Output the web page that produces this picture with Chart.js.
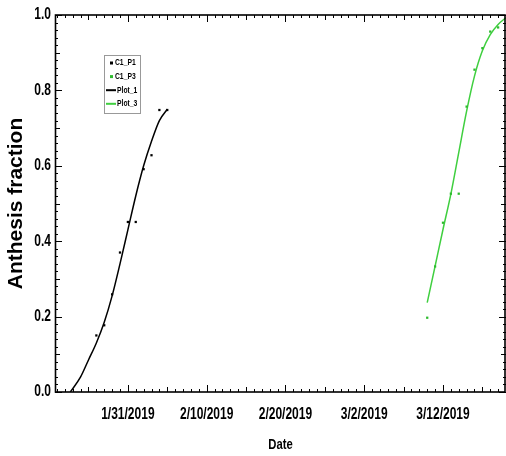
<!DOCTYPE html>
<html><head><meta charset="utf-8">
<script src="https://cdn.jsdelivr.net/npm/chart.js@4/dist/chart.umd.min.js"></script>
<style>html,body{margin:0;padding:0;background:#fff;overflow:hidden}canvas{display:block}</style>
</head><body><canvas id="c" width="506" height="456" style="width:506px;height:456px"></canvas>
<script>
// Days counted from Jan 1 2019 (= day 0)
const p1Days   = [26, 27, 28, 29, 30, 31, 32, 33, 34, 35];
const p1Values = [0.150, 0.177, 0.259, 0.370, 0.451, 0.451, 0.591, 0.628, 0.748, 0.748];
const p3Days   = [68, 69, 70, 71, 72, 73, 74, 75, 76, 77];
const p3Values = [0.197, 0.333, 0.449, 0.526, 0.526, 0.757, 0.855, 0.912, 0.956, 0.967];
const fit1Days   = [22.7, 24, 25, 26, 27, 28, 29, 30, 31, 32, 33, 34, 35];
const fit1Values = [0.0, 0.04, 0.085, 0.13, 0.185, 0.255, 0.34, 0.43, 0.52, 0.60, 0.665, 0.72, 0.75];
const fit3Days   = [68, 69, 70, 71, 72, 73, 74, 75, 76, 77, 78];
const fit3Values = [0.237, 0.334, 0.431, 0.525, 0.635, 0.745, 0.838, 0.905, 0.948, 0.975, 0.993];
const xTickDays = [30, 40, 50, 60, 70];
const yTickValues = [0, 0.2, 0.4, 0.6, 0.8, 1.0];
const seriesLabels = ['C1_P1', 'C1_P3', 'Plot_1', 'Plot_3'];
const xTitle = 'Date';
const yTitle = 'Anthesis fraction';

const GREEN = '#3fcf3f';
const FONT = '"Liberation Sans", Arial, sans-serif';
const zip = (xs, ys) => xs.map((x, i) => ({x: x, y: ys[i]}));
const dayLabel = d => { const dt = new Date(2019, 0, 1 + d); return (dt.getMonth() + 1) + '/' + dt.getDate() + '/' + dt.getFullYear(); };

// Condensed look for horizontal text (the reference uses a narrow face)
const canvas = document.getElementById('c');
const ctx2d = canvas.getContext('2d');
const origFillText = ctx2d.fillText.bind(ctx2d);
ctx2d.fillText = function (t, x, y, mw) {
  const m = this.getTransform();
  if (Math.abs(m.b) > 1e-6) { return mw === undefined ? origFillText(t, x, y) : origFillText(t, x, y, mw); }
  this.save();
  this.translate(x, y);
  this.scale(0.75, 1);
  origFillText(t, 0, 0);
  this.restore();
};

const framePlugin = {
  id: 'frame',
  afterDraw(chart) {
    const {ctx, chartArea: a, scales} = chart;
    const xs = scales.x, ys = scales.y;
    ctx.save();
    ctx.strokeStyle = '#000';
    ctx.lineWidth = 1;
    for (let d = Math.ceil(xs.min); d <= Math.floor(xs.max); d++) {
      const px = Math.round(xs.getPixelForValue(d)) + 0.5;
      const len = d % 10 === 0 ? 7 : (d % 5 === 0 ? 5 : 3);
      ctx.beginPath();
      ctx.moveTo(px, a.bottom); ctx.lineTo(px, a.bottom - len);
      ctx.moveTo(px, a.top); ctx.lineTo(px, a.top + len);
      ctx.stroke();
    }
    for (let i = 0; i <= 50; i++) {
      const v = i * 0.02;
      const py = Math.round(ys.getPixelForValue(v)) + 0.5;
      const len = i % 10 === 0 ? 7 : (i % 5 === 0 ? 5 : 3);
      ctx.beginPath();
      ctx.moveTo(a.left, py); ctx.lineTo(a.left + len, py);
      ctx.moveTo(a.right, py); ctx.lineTo(a.right - len, py);
      ctx.stroke();
    }
    ctx.lineWidth = 1.6;
    ctx.strokeRect(a.left + 0.5, a.top, a.right - a.left - 1.5, a.bottom - a.top);
    ctx.restore();

    // legend box
    const ds = chart.data.datasets;
    const lx = 104, ly = 55, lw = 36, lh = 58;
    ctx.save();
    ctx.fillStyle = '#fff';
    ctx.fillRect(lx, ly, lw, lh);
    ctx.strokeStyle = '#999';
    ctx.lineWidth = 1;
    ctx.strokeRect(lx + 0.5, ly + 0.5, lw, lh);
    ctx.font = 'bold 9px ' + FONT;
    ctx.textBaseline = 'middle';
    ctx.textAlign = 'left';
    ds.forEach((d, i) => {
      const y = ly + 8 + i * 13.6;
      if (d.showLine) {
        ctx.strokeStyle = d.borderColor; ctx.lineWidth = 2;
        ctx.beginPath(); ctx.moveTo(lx + 2, y); ctx.lineTo(lx + 12, y); ctx.stroke();
        ctx.fillStyle = '#000';
        ctx.fillText(d.label, lx + 13, y);
      } else {
        ctx.fillStyle = d.backgroundColor;
        ctx.fillRect(lx + 6, y - 1.5, 3, 3);
        ctx.fillStyle = '#000';
        ctx.fillText(d.label, lx + 11, y);
      }
    });
    ctx.restore();
  }
};

new Chart(canvas, {
  type: 'scatter',
  data: {
    datasets: [
      {label: seriesLabels[0], data: zip(p1Days, p1Values), showLine: false, pointStyle: 'rect', pointRadius: 1.6, backgroundColor: '#000', borderColor: '#000', borderWidth: 0},
      {label: seriesLabels[1], data: zip(p3Days, p3Values), showLine: false, pointStyle: 'rect', pointRadius: 1.6, backgroundColor: '#2dbb2d', borderColor: '#2dbb2d', borderWidth: 0},
      {label: seriesLabels[2], data: zip(fit1Days, fit1Values), showLine: true, pointRadius: 0, borderColor: '#000', borderWidth: 1.5, cubicInterpolationMode: 'monotone', fill: false},
      {label: seriesLabels[3], data: zip(fit3Days, fit3Values), showLine: true, pointRadius: 0, borderColor: GREEN, borderWidth: 1.5, cubicInterpolationMode: 'monotone', fill: false}
    ]
  },
  options: {
    responsive: false,
    maintainAspectRatio: false,
    devicePixelRatio: 1,
    animation: false,
    layout: {autoPadding: false, padding: {top: 15, right: 0, left: 0, bottom: 0}},
    plugins: {legend: {display: false}, tooltip: {enabled: false}},
    scales: {
      x: {
        type: 'linear', min: 20.75, max: 78,
        afterBuildTicks: s => { s.ticks = xTickDays.map(v => ({value: v})); },
        afterFit: s => { s.height = 64; s.paddingLeft = 0; s.paddingRight = 0; },
        grid: {display: false, drawTicks: false, tickLength: 0},
        border: {display: false},
        ticks: {callback: v => dayLabel(v), color: '#000', padding: 13, maxRotation: 0, autoSkip: false,
          font: {family: FONT, size: 16, weight: 'bold'}},
        title: {display: true, text: xTitle, color: '#000', padding: {top: 0, bottom: 2},
          font: {family: FONT, size: 15, weight: 'bold'}}
      },
      y: {
        min: 0, max: 1,
        afterBuildTicks: s => { s.ticks = yTickValues.map(v => ({value: v})); },
        afterFit: s => { s.width = 55; s.paddingTop = 0; s.paddingBottom = 0; },
        grid: {display: false, drawTicks: false, tickLength: 0},
        border: {display: false},
        ticks: {callback: v => v.toFixed(1), color: '#000', padding: 4,
          font: {family: FONT, size: 16, weight: 'bold'}},
        title: {display: true, text: yTitle, color: '#000', padding: {top: 4, bottom: 0},
          font: {family: FONT, size: 21, weight: 'bold'}}
      }
    }
  },
  plugins: [framePlugin]
});
</script></body></html>
